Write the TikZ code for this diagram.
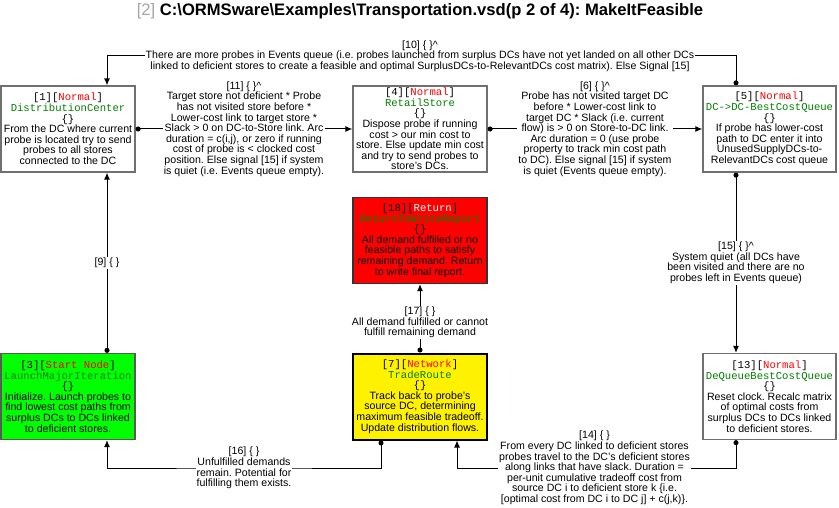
\documentclass[tikz,border=0pt]{standalone}
\usepackage{fontspec}
\setmainfont{Liberation Sans}
\setmonofont{Liberation Mono}
\usetikzlibrary{arrows.meta}
\frenchspacing

\definecolor{boxgray}{RGB}{112,112,112}
\definecolor{tagred}{RGB}{255,0,0}
\definecolor{clsgreen}{RGB}{0,128,0}
\definecolor{startgreen}{RGB}{0,255,0}
\definecolor{titlegray}{RGB}{165,165,165}

\newcommand{\boxfont}{\fontsize{10.6}{10.6}\selectfont}
\newcommand{\hdr}[3][tagred]{\texttt{#2[\textcolor{#1}{#3}]}}
\newcommand{\clsname}[1]{\texttt{\textcolor{clsgreen}{#1}}}

\tikzset{
  titletext/.style={font=\fontsize{16.6}{18}\selectfont\bfseries, inner sep=0pt},
  box/.style={draw=boxgray, line width=1.3pt, fill=white, minimum width=134pt,
    minimum height=86pt, inner sep=1pt, align=center, font=\boxfont},
  startbox/.style={box, fill=startgreen, draw=black!65},
  retbox/.style={box, fill=tagred, draw=black!80},
  netbox/.style={box, fill=yellow, draw=black, line width=2pt},
  lbl/.style={fill=white, inner sep=1pt, align=center, font=\boxfont},
  flow/.style={line width=1pt, {Circle[length=5pt]}-{Latex[length=7pt,width=6pt]}},
}

\begin{document}
\begin{tikzpicture}[x=1pt,y=-1pt]
\useasboundingbox (0,0) rectangle (839,508);

\node[titletext] (title) at (420,11) {\textcolor{titlegray}{\mdseries[2]}\ C:\textbackslash ORMSware\textbackslash Examples\textbackslash Transportation.vsd(p 2 of 4): MakeItFeasible};

% boxes
\node[box] (dc) at (68,129) {\hdr{[1]}{Normal}\\ \clsname{DistributionCenter}\\ \texttt{\{\}}\\
  From the DC where current\\ probe is located try to send\\ probes to all stores\\ connected to the DC};
\node[box] (rs) at (420,129) {\hdr{[4]}{Normal}\\ \clsname{RetailStore}\\ \texttt{\{\}}\\
  Dispose probe if running\\ cost > our min cost to\\ store. Else update min cost\\ and try to send probes to\\ store's DCs.};
\node[box, minimum width=133pt] (bcq) at (769.5,129) {\hdr{[5]}{Normal}\\ \clsname{DC->DC-BestCostQueue}\\ \texttt{\{\}}\\
  If probe has lower-cost\\ path to DC enter it into\\ UnusedSupplyDCs-to-\\ RelevantDCs cost queue};
\node[retbox] (ret) at (420,240.5) {\hdr[white]{[18]}{Return}\\ \clsname{ReturnToWriteReport}\\ \texttt{\{\}}\\
  All demand fulfilled or no\\ feasible paths to satisfy\\ remaining demand. Return\\ to write final report.};
\node[startbox] (start) at (68,396.5) {\hdr{[3]}{Start Node}\\ \clsname{LaunchMajorIteration}\\ \texttt{\{\}}\\
  Initialize. Launch probes to\\ find lowest cost paths from\\ surplus DCs to DCs linked\\ to deficient stores.};
\node[netbox] (trade) at (420,396.5) {\hdr{[7]}{Network}\\ \clsname{TradeRoute}\\ \texttt{\{\}}\\
  Track back to probe's\\ source DC, determining\\ maximum feasible tradeoff.\\ Update distribution flows.};
\node[box, minimum width=133pt] (deq) at (769.5,396.5) {\hdr{[13]}{Normal}\\ \clsname{DeQueueBestCostQueue}\\ \texttt{\{\}}\\
  Reset clock. Recalc matrix\\ of optimal costs from\\ surplus DCs to DCs linked\\ to deficient stores.};

% route points
\coordinate (r10) at (420,56);
\coordinate (r16) at (244,468);
\coordinate (r14) at (594.5,468);

% connectors
\draw[flow] ([xshift=-33.5pt]bcq.north) |- (r10) -| ([xshift=39pt]dc.north);
\node[lbl] (l10) at (r10) {[10] \{ \}\textasciicircum\\ There are more probes in Events queue (i.e. probes launched from surplus DCs have not yet landed on all other DCs\\ linked to deficient stores to create a feasible and optimal SurplusDCs-to-RelevantDCs cost matrix). Else Signal [15]};

\draw[flow] (dc.east) -- (rs.west) node[lbl, midway] (l11) {[11] \{ \}\textasciicircum\\ Target store not deficient * Probe\\ has not visited store before *\\ Lower-cost link to target store *\\ Slack > 0 on DC-to-Store link. Arc\\ duration = c(i,j), or zero if running\\ cost of probe is < clocked cost\\ position. Else signal [15] if system\\ is quiet (i.e. Events queue empty).};

\draw[flow] (rs.east) -- (bcq.west) node[lbl, midway] (l6) {[6] \{ \}\textasciicircum\\ Probe has not visited target DC\\ before * Lower-cost link to\\ target DC * Slack (i.e. current\\ flow) is > 0 on Store-to-DC link.\\ Arc duration = 0 (use probe\\ property to track min cost path\\ to DC). Else signal [15] if system\\ is quiet (Events queue empty).};

\draw[flow] ([xshift=-33.5pt]bcq.south) -- ([xshift=-33.5pt]deq.north) node[lbl, midway] (l15) {[15] \{ \}\textasciicircum\\ System quiet (all DCs have\\ been visited and there are no\\ probes left in Events queue)};

\draw[flow] ([xshift=39pt]start.north) -- ([xshift=39pt]dc.south) node[lbl, midway] (l9) {[9] \{ \}};

\draw[flow] (trade.north) -- (ret.south) node[lbl, pos=0.44] (l17) {[17] \{ \}\\ All demand fulfilled or cannot\\ fulfill remaining demand};

\draw[flow] ([xshift=-39pt]trade.south) |- (r16) -| ([xshift=39pt]start.south);
\node[lbl] (l16) at (r16) {[16] \{ \}\\ Unfulfilled demands\\ remain. Potential for\\ fulfilling them exists.};

\draw[flow] ([xshift=-33.5pt]deq.south) |- (r14) -| ([xshift=37pt]trade.south);
\node[lbl] (l14) at (r14) {[14] \{ \}\\ From every DC linked to deficient stores\\ probes travel to the DC's deficient stores\\ along links that have slack. Duration =\\ per-unit cumulative tradeoff cost from\\ source DC i to deficient store k \{i.e.\\ {[}optimal cost from DC i to DC j] + c(j,k)\}.};
\end{tikzpicture}
\end{document}
